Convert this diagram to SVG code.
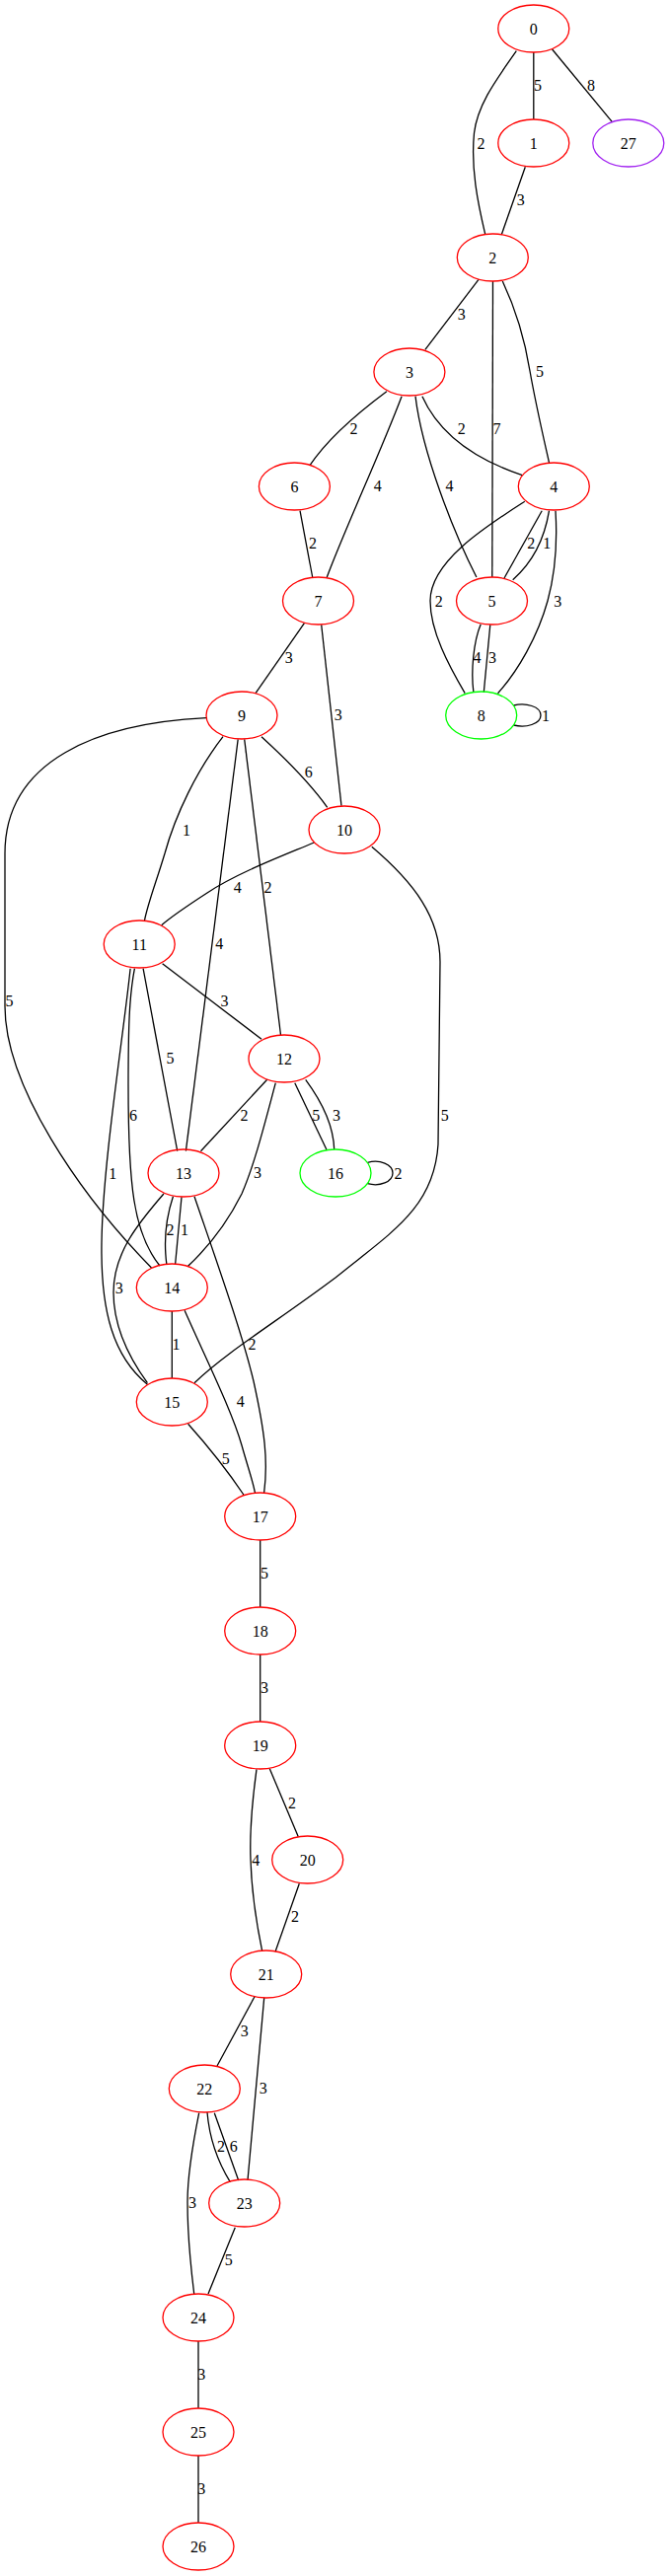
<svg xmlns="http://www.w3.org/2000/svg" width="679" height="2611" viewBox="0 0 679 2611">
<style>
.n ellipse{fill:none;stroke:#ff0000;stroke-width:1.3}
.n.g ellipse{stroke:#00ff00}
.n.p ellipse{stroke:#a020f0}
text{font-family:"Liberation Serif","Times New Roman",serif;font-size:16px;fill:#000;text-anchor:middle}
#edges path{fill:none;stroke:#000;stroke-width:1.3}
</style>
<rect width="679" height="2611" fill="#fff"/>
<g id="edges">
<path d="M540.8,53 L540.8,121"/><text x="545" y="91.5">5</text>
<path d="M559.6,50 L620.2,123.3"/><text x="599" y="91.5">8</text>
<path d="M523.3,51.7 C505,78 484,105 480.5,135 C477,170 484,205 491.7,237.3"/><text x="487.5" y="150.5">2</text>
<path d="M532.3,169.3 L508.3,237.7"/><text x="527.7" y="207.5">3</text>
<path d="M485,283.3 L430.9,354.3"/><text x="467.7" y="323.8">3</text>
<path d="M499.5,285 L498.8,585"/><text x="503.5" y="439.8">7</text>
<path d="M509.3,285 C522,312 532,345 537,376 C543,410 550,440 556.5,469"/><text x="547" y="381.5">5</text>
<path d="M391.9,396.7 C370,413 335,440 314,471.7"/><text x="358.6" y="439.8">2</text>
<path d="M407.1,401.7 C385,460 350,535 331.3,585"/><text x="382.8" y="497.8">4</text>
<path d="M421,401.7 C428,460 460,540 482.9,585"/><text x="455.6" y="497.8">4</text>
<path d="M427.9,401.7 C445,440 480,465 529.2,481.7"/><text x="467.7" y="439.8">2</text>
<path d="M304,517.7 L316.7,585"/><text x="317" y="555.5">2</text>
<path d="M549.2,517.7 L511,586"/><text x="538.3" y="555.5">2</text>
<path d="M556.5,517.7 C552,545 540,570 519.7,587.7"/><text x="554.3" y="555.5">1</text>
<path d="M531.8,508.3 C490,535 436,570 436,609 C436,640 455,675 471.2,702.7"/><text x="444.8" y="614.5">2</text>
<path d="M563,517.7 C565,550 563,580 555,609 C545,645 525,680 504.5,702.7"/><text x="565.2" y="614.5">3</text>
<path d="M487.2,632.7 C480,650 477,680 479.9,701.7"/><text x="483.5" y="671.5">4</text>
<path d="M496.8,633.3 L490.3,701.7"/><text x="499" y="671.5">3</text>
<path d="M520.5,715 C533,712 548,716 548,725 C548,734 533,738 520.5,735"/><text x="553" y="730.5">1</text>
<path d="M308.4,631.7 L259,702.7"/><text x="292.7" y="672">3</text>
<path d="M325.7,633.3 L346,816.7"/><text x="342.7" y="729.8">3</text>
<path d="M265,746.7 C285,765 315,795 331.7,818.3"/><text x="312.7" y="787.8">6</text>
<path d="M209,727.7 C100,733 5,770 5,865 L5,1020 C5,1100 80,1210 153.5,1285"/><text x="9.5" y="1019.8">5</text>
<path d="M226,746.7 C200,780 178,825 167,865 C158,895 150,915 146.4,933.3"/><text x="189" y="846.5">1</text>
<path d="M241.2,749.3 L188.4,1166.7"/><text x="222.2" y="961.5">4</text>
<path d="M247.7,749.3 L284.5,1049"/><text x="271.5" y="904.5">2</text>
<path d="M318.3,854 C285,868 240,885 210,905 C190,918 175,928 163.7,937.7"/><text x="240.8" y="904.5">4</text>
<path d="M376.8,858.3 C420,895 446,930 446,975 L444,1160 C440,1225 395,1250 340,1295 C280,1340 230,1370 197,1401.7"/><text x="450.8" y="1135.5">5</text>
<path d="M164.6,976.7 L265,1053.3"/><text x="227.4" y="1019.8">3</text>
<path d="M145.1,981.7 L179.7,1166.7"/><text x="172.4" y="1077.8">5</text>
<path d="M136.4,981.7 C131,1010 130,1040 130,1100 C130,1200 135,1250 162,1283"/><text x="135" y="1136">6</text>
<path d="M132.1,981.7 C125,1050 104,1180 103,1260 C102,1330 115,1375 149.4,1403.3"/><text x="114.3" y="1194.5">1</text>
<path d="M270.7,1094.3 L203.5,1166.7"/><text x="247.5" y="1136">2</text>
<path d="M279.3,1097.7 C268,1140 258,1180 245,1210 C230,1240 210,1265 190.6,1283.3"/><text x="261" y="1194">3</text>
<path d="M298.8,1097.7 L331.3,1166"/><text x="320.3" y="1135.5">5</text>
<path d="M309.7,1094.3 C325,1115 338,1140 338.7,1165"/><text x="341" y="1135.5">3</text>
<path d="M372.5,1178.3 C385,1175 398,1180 398,1189 C398,1198 385,1203 372.5,1199.7"/><text x="403.6" y="1194.5">2</text>
<path d="M175.4,1212.7 C168,1235 166,1260 168.9,1281.7"/><text x="172.4" y="1252.2">2</text>
<path d="M184,1213.3 L177.6,1281.7"/><text x="187.1" y="1252.2">1</text>
<path d="M165.9,1210 C140,1240 115,1270 115,1310 C115,1345 130,1375 149.4,1401.7"/><text x="120.7" y="1310.5">3</text>
<path d="M197,1212.7 C220,1280 245,1350 257,1400 C268,1450 272,1480 267.6,1513.3"/><text x="255.5" y="1367.8">2</text>
<path d="M174.3,1329 L174.3,1397"/><text x="178.4" y="1367.8">1</text>
<path d="M187.1,1328.3 C210,1380 235,1430 245,1465 C252,1490 256,1500 258.5,1513.3"/><text x="243.8" y="1425.5">4</text>
<path d="M190.6,1443.3 C210,1465 230,1490 246.9,1515"/><text x="228.7" y="1483.8">5</text>
<path d="M263.7,1561 L263.7,1629"/><text x="268" y="1599.8">5</text>
<path d="M263.7,1677 L263.7,1745"/><text x="268" y="1715.5">3</text>
<path d="M273.3,1792.7 L302.3,1861.7"/><text x="296" y="1832.8">2</text>
<path d="M260,1793.3 C255,1830 253,1860 254,1885 C255,1920 260,1950 265.7,1977.7"/><text x="259.3" y="1890.5">4</text>
<path d="M303.3,1909.3 L279,1978.3"/><text x="299" y="1947.8">2</text>
<path d="M258.3,2023.3 L220,2094"/><text x="247.7" y="2063.8">3</text>
<path d="M267.7,2025 L251,2210"/><text x="266.7" y="2122.2">3</text>
<path d="M210,2141 C212,2165 220,2190 233.3,2211.7"/><text x="224" y="2180.5">2</text>
<path d="M217.3,2141.7 L241.7,2210"/><text x="236.7" y="2180.5">6</text>
<path d="M201.7,2141.7 C195,2175 190,2205 190,2232 C190,2265 193,2295 196.7,2325"/><text x="195" y="2237.8">3</text>
<path d="M238.3,2257.7 L211,2325"/><text x="231.7" y="2295.5">5</text>
<path d="M201,2373 L201,2441"/><text x="204.3" y="2412.2">3</text>
<path d="M201,2489 L201,2557"/><text x="204.3" y="2527.8">3</text>
</g>
<g id="n0" class="n"><ellipse cx="540.8" cy="29" rx="36" ry="24"/><text x="540.8" y="34.5">0</text></g>
<g id="n1" class="n"><ellipse cx="540.8" cy="145" rx="36" ry="24"/><text x="540.8" y="150.5">1</text></g>
<g id="n27" class="n p"><ellipse cx="636.8" cy="145" rx="36" ry="24"/><text x="636.8" y="150.5">27</text></g>
<g id="n2" class="n"><ellipse cx="499.3" cy="261" rx="36" ry="24"/><text x="499.3" y="266.5">2</text></g>
<g id="n3" class="n"><ellipse cx="414.9" cy="377" rx="36" ry="24"/><text x="414.9" y="382.5">3</text></g>
<g id="n6" class="n"><ellipse cx="298.4" cy="493" rx="36" ry="24"/><text x="298.4" y="498.5">6</text></g>
<g id="n4" class="n"><ellipse cx="561.3" cy="493" rx="36" ry="24"/><text x="561.3" y="498.5">4</text></g>
<g id="n7" class="n"><ellipse cx="322.5" cy="609" rx="36" ry="24"/><text x="322.5" y="614.5">7</text></g>
<g id="n5" class="n"><ellipse cx="498.5" cy="609" rx="36" ry="24"/><text x="498.5" y="614.5">5</text></g>
<g id="n8" class="n g"><ellipse cx="487.7" cy="725" rx="36" ry="24"/><text x="487.7" y="730.5">8</text></g>
<g id="n9" class="n"><ellipse cx="245" cy="725" rx="36" ry="24"/><text x="245" y="730.5">9</text></g>
<g id="n10" class="n"><ellipse cx="349" cy="841" rx="36" ry="24"/><text x="349" y="846.5">10</text></g>
<g id="n11" class="n"><ellipse cx="141.2" cy="957" rx="36" ry="24"/><text x="141.2" y="962.5">11</text></g>
<g id="n12" class="n"><ellipse cx="288" cy="1073" rx="36" ry="24"/><text x="288" y="1078.5">12</text></g>
<g id="n13" class="n"><ellipse cx="186" cy="1189" rx="36" ry="24"/><text x="186" y="1194.5">13</text></g>
<g id="n16" class="n g"><ellipse cx="340" cy="1189" rx="36" ry="24"/><text x="340" y="1194.5">16</text></g>
<g id="n14" class="n"><ellipse cx="174.3" cy="1305" rx="36" ry="24"/><text x="174.3" y="1310.5">14</text></g>
<g id="n15" class="n"><ellipse cx="174.3" cy="1421" rx="36" ry="24"/><text x="174.3" y="1426.5">15</text></g>
<g id="n17" class="n"><ellipse cx="263.7" cy="1537" rx="36" ry="24"/><text x="263.7" y="1542.5">17</text></g>
<g id="n18" class="n"><ellipse cx="263.7" cy="1653" rx="36" ry="24"/><text x="263.7" y="1658.5">18</text></g>
<g id="n19" class="n"><ellipse cx="263.7" cy="1769" rx="36" ry="24"/><text x="263.7" y="1774.5">19</text></g>
<g id="n20" class="n"><ellipse cx="311.7" cy="1885" rx="36" ry="24"/><text x="311.7" y="1890.5">20</text></g>
<g id="n21" class="n"><ellipse cx="269.7" cy="2001" rx="36" ry="24"/><text x="269.7" y="2006.5">21</text></g>
<g id="n22" class="n"><ellipse cx="207.3" cy="2117" rx="36" ry="24"/><text x="207.3" y="2122.5">22</text></g>
<g id="n23" class="n"><ellipse cx="247.7" cy="2233" rx="36" ry="24"/><text x="247.7" y="2238.5">23</text></g>
<g id="n24" class="n"><ellipse cx="201" cy="2349" rx="36" ry="24"/><text x="201" y="2354.5">24</text></g>
<g id="n25" class="n"><ellipse cx="201" cy="2465" rx="36" ry="24"/><text x="201" y="2470.5">25</text></g>
<g id="n26" class="n"><ellipse cx="201" cy="2581" rx="36" ry="24"/><text x="201" y="2586.5">26</text></g>
</svg>
